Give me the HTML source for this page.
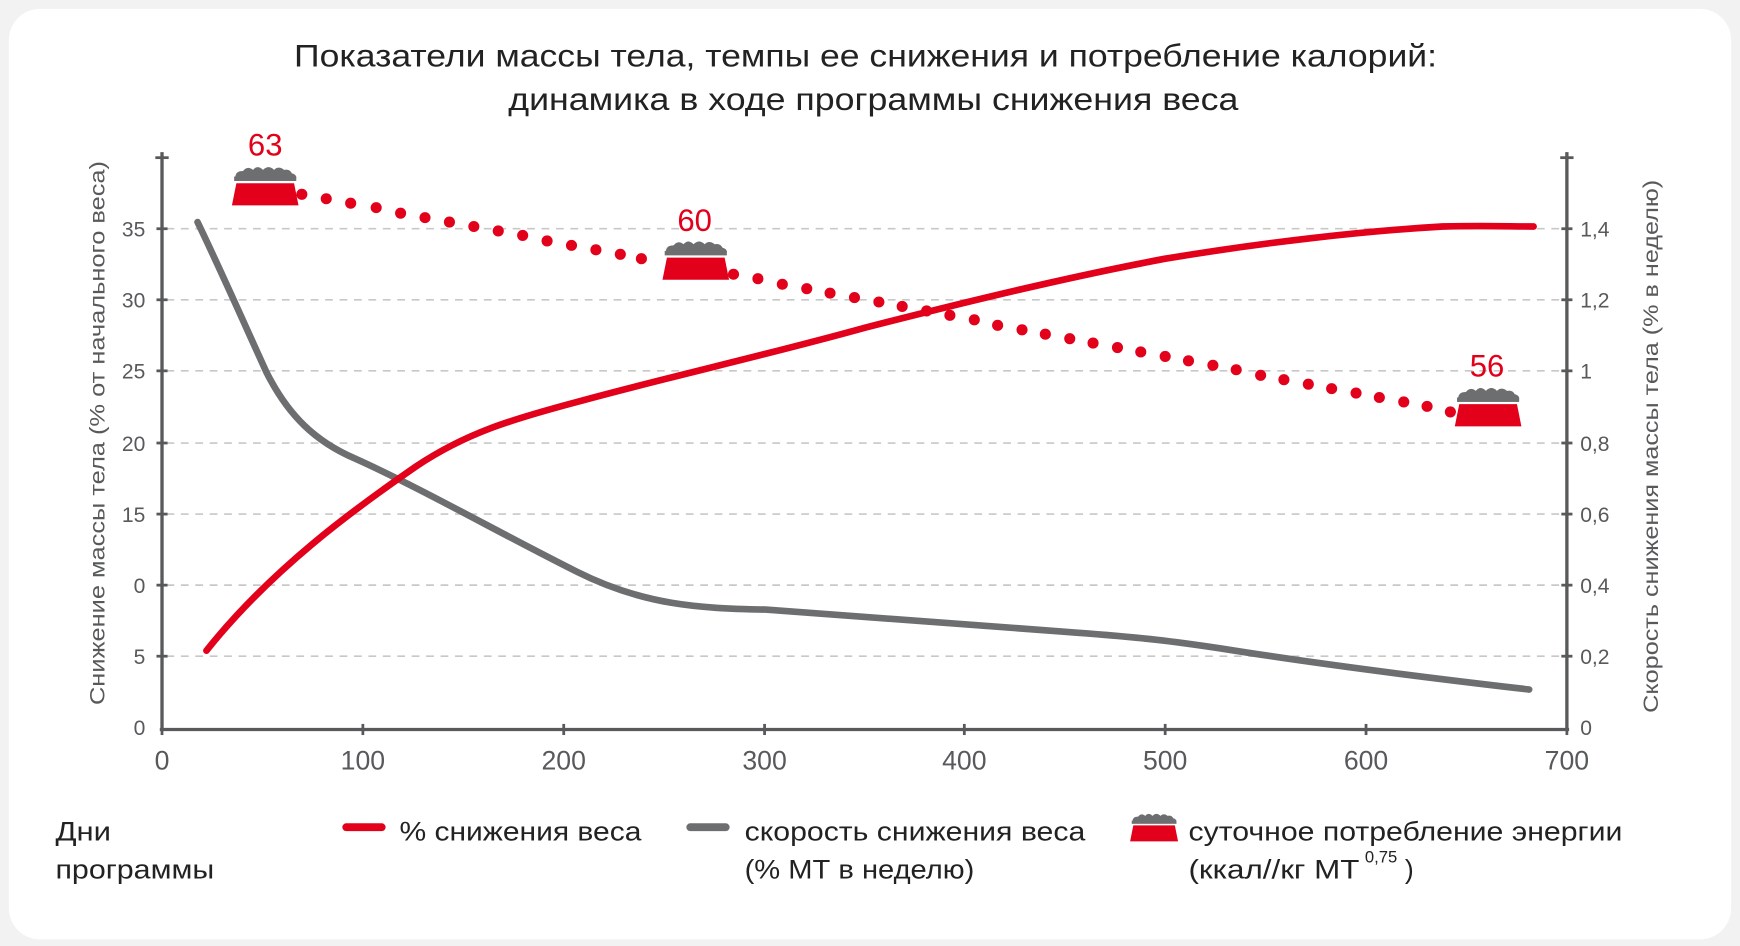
<!DOCTYPE html>
<html><head><meta charset="utf-8"><style>
html,body{margin:0;padding:0;background:#f2f2f2;}
svg{display:block}
text{font-family:"Liberation Sans Narrow","Liberation Sans","DejaVu Sans",sans-serif;}
</style></head><body>
<svg width="1740" height="946" viewBox="0 0 1568 852" preserveAspectRatio="none" xmlns="http://www.w3.org/2000/svg">
<defs>
<g id="bowl">
<path d="M-27,-10 Q-27,-16 -20,-16 Q-16,-21 -11,-17 Q-7,-22 -2,-17 Q3,-22 8,-17 Q12,-21 17,-17 Q22,-18 24,-14 Q28,-13 28,-10 Z" fill="#6d6e70"/>
<rect x="-28" y="-11" width="56" height="4" fill="#6d6e70"/>
<path d="M-26,-5 L26,-5 L30,15 L-30,15 Z" fill="#e2001a"/>
</g>
</defs>
<rect x="0" y="0" width="1568" height="852" fill="#f2f2f2"/>
<rect x="8" y="8" width="1552" height="838" rx="28" fill="#fff"/>
<g fill="#222" font-size="28" text-anchor="middle">
<text x="780" y="60" textLength="1030" lengthAdjust="spacingAndGlyphs">Показатели массы тела, темпы ее снижения и потребление калорий:</text>
<text x="787" y="99" textLength="658" lengthAdjust="spacingAndGlyphs">динамика в ходе программы снижения веса</text>
</g>
<g stroke="#c8c8c8" stroke-width="1.5" stroke-dasharray="7,6">
<line x1="150" y1="206" x2="1408" y2="206"/><line x1="150" y1="270" x2="1408" y2="270"/>
<line x1="150" y1="334" x2="1408" y2="334"/><line x1="150" y1="399" x2="1408" y2="399"/>
<line x1="150" y1="463" x2="1408" y2="463"/><line x1="150" y1="527" x2="1408" y2="527"/>
<line x1="150" y1="591" x2="1408" y2="591"/>
</g>
<g stroke="#58595b" stroke-width="3" fill="none">
<line x1="146" y1="137" x2="146" y2="657"/><line x1="1412" y1="137" x2="1412" y2="657"/>
<line x1="144" y1="657" x2="1414" y2="657"/>
</g>
<g stroke="#58595b" stroke-width="2.5">
<line x1="140" y1="142" x2="152" y2="142"/><line x1="1406" y1="142" x2="1418" y2="142"/>
<line x1="141" y1="206" x2="151" y2="206"/><line x1="141" y1="270" x2="151" y2="270"/><line x1="141" y1="334" x2="151" y2="334"/><line x1="141" y1="399" x2="151" y2="399"/><line x1="141" y1="463" x2="151" y2="463"/><line x1="141" y1="527" x2="151" y2="527"/><line x1="141" y1="591" x2="151" y2="591"/>
<line x1="1407" y1="206" x2="1417" y2="206"/><line x1="1407" y1="270" x2="1417" y2="270"/><line x1="1407" y1="334" x2="1417" y2="334"/><line x1="1407" y1="399" x2="1417" y2="399"/><line x1="1407" y1="463" x2="1417" y2="463"/><line x1="1407" y1="527" x2="1417" y2="527"/><line x1="1407" y1="591" x2="1417" y2="591"/>
<line x1="146" y1="652" x2="146" y2="662"/><line x1="327" y1="652" x2="327" y2="662"/><line x1="508" y1="652" x2="508" y2="662"/><line x1="689" y1="652" x2="689" y2="662"/><line x1="869" y1="652" x2="869" y2="662"/><line x1="1050" y1="652" x2="1050" y2="662"/><line x1="1231" y1="652" x2="1231" y2="662"/><line x1="1412" y1="652" x2="1412" y2="662"/>
</g>
<g fill="#58595b" font-size="19" text-anchor="end">
<text x="131" y="213">35</text><text x="131" y="277">30</text><text x="131" y="341">25</text><text x="131" y="406">20</text><text x="131" y="470">15</text><text x="131" y="534">0</text><text x="131" y="598">5</text><text x="131" y="662">0</text>
</g>
<g fill="#58595b" font-size="19">
<text x="1424" y="213">1,4</text><text x="1424" y="277">1,2</text><text x="1424" y="341">1</text><text x="1424" y="406">0,8</text><text x="1424" y="470">0,6</text><text x="1424" y="534">0,4</text><text x="1424" y="598">0,2</text><text x="1424" y="662">0</text>
</g>
<g fill="#58595b" font-size="24" text-anchor="middle">
<text x="146" y="693">0</text><text x="327" y="693">100</text><text x="508" y="693">200</text><text x="689" y="693">300</text><text x="869" y="693">400</text><text x="1050" y="693">500</text><text x="1231" y="693">600</text><text x="1412" y="693">700</text>
</g>
<text transform="translate(94,390) rotate(-90)" fill="#58595b" font-size="19" text-anchor="middle" textLength="490" lengthAdjust="spacingAndGlyphs">Снижение массы тела (% от начального веса)</text>
<text transform="translate(1494,402) rotate(-90)" fill="#58595b" font-size="19" text-anchor="middle" textLength="480" lengthAdjust="spacingAndGlyphs">Скорость снижения массы тела (% в неделю)</text>
<g fill="#e2001a">
<circle cx="272" cy="175" r="5"/><circle cx="294" cy="179" r="5"/><circle cx="316" cy="183" r="5"/><circle cx="339" cy="187" r="5"/><circle cx="361" cy="192" r="5"/><circle cx="383" cy="196" r="5"/><circle cx="405" cy="200" r="5"/><circle cx="427" cy="204" r="5"/><circle cx="449" cy="208" r="5"/><circle cx="471" cy="212" r="5"/><circle cx="493" cy="217" r="5"/><circle cx="515" cy="221" r="5"/><circle cx="537" cy="225" r="5"/><circle cx="559" cy="229" r="5"/><circle cx="578" cy="233" r="5"/>
<circle cx="661" cy="247" r="5"/><circle cx="683" cy="251" r="5"/><circle cx="705" cy="256" r="5"/><circle cx="727" cy="260" r="5"/><circle cx="748" cy="264" r="5"/><circle cx="770" cy="268" r="5"/><circle cx="792" cy="272" r="5"/><circle cx="813" cy="276" r="5"/><circle cx="835" cy="280" r="5"/><circle cx="856" cy="284" r="5"/><circle cx="878" cy="288" r="5"/><circle cx="899" cy="293" r="5"/><circle cx="921" cy="297" r="5"/><circle cx="942" cy="301" r="5"/><circle cx="964" cy="305" r="5"/><circle cx="985" cy="309" r="5"/><circle cx="1007" cy="313" r="5"/><circle cx="1028" cy="317" r="5"/><circle cx="1050" cy="321" r="5"/><circle cx="1071" cy="325" r="5"/><circle cx="1093" cy="329" r="5"/><circle cx="1114" cy="333" r="5"/><circle cx="1136" cy="338" r="5"/><circle cx="1157" cy="342" r="5"/><circle cx="1179" cy="346" r="5"/><circle cx="1200" cy="350" r="5"/><circle cx="1222" cy="354" r="5"/><circle cx="1243" cy="358" r="5"/><circle cx="1265" cy="362" r="5"/><circle cx="1286" cy="366" r="5"/><circle cx="1307" cy="371" r="5"/>
</g>
<path d="M178,200 C195,235 215,280 240,335 C260,375 285,398 320,413 C380,440 450,480 520,515 C580,545 630,548 690,549 C780,555 870,562 960,569 C1030,574 1060,578 1100,584 C1200,600 1300,612 1378,621" stroke="#6d6e70" stroke-width="6" fill="none" stroke-linecap="round"/>
<path d="M186,586 C245,512 320,458 375,420 C420,390 460,378 520,362 C600,340 690,320 780,295 C870,272 960,250 1050,233 C1140,218 1230,208 1300,204 C1340,203 1360,204 1382,204" stroke="#e2001a" stroke-width="6" fill="none" stroke-linecap="round"/>
<use href="#bowl" x="239" y="170"/>
<use href="#bowl" x="627" y="237"/>
<use href="#bowl" x="1341" y="369"/>
<g fill="#e2001a" font-size="28" text-anchor="middle">
<text x="239" y="140">63</text><text x="626" y="208">60</text><text x="1340" y="339">56</text>
</g>
<g fill="#222" font-size="24" lengthAdjust="spacingAndGlyphs">
<text x="50" y="757" textLength="50" lengthAdjust="spacingAndGlyphs">Дни</text><text x="50" y="791" textLength="143" lengthAdjust="spacingAndGlyphs">программы</text>
<text x="360" y="757" textLength="218" lengthAdjust="spacingAndGlyphs">% снижения веса</text>
<text x="671" y="757" textLength="307" lengthAdjust="spacingAndGlyphs">скорость снижения веса</text><text x="671" y="791" textLength="207" lengthAdjust="spacingAndGlyphs">(% МТ в неделю)</text>
<text x="1071" y="757" textLength="391" lengthAdjust="spacingAndGlyphs">суточное потребление энергии</text>
<text x="1071" y="791" textLength="154" lengthAdjust="spacingAndGlyphs">(ккал//кг МТ</text><text x="1230" y="777" font-size="15">0,75</text><text x="1266" y="791">)</text>
</g>
<line x1="312" y1="745" x2="344" y2="745" stroke="#e2001a" stroke-width="7" stroke-linecap="round"/>
<line x1="622" y1="745" x2="654" y2="745" stroke="#6d6e70" stroke-width="7" stroke-linecap="round"/>
<g transform="translate(1040,747) scale(0.72)"><use href="#bowl"/></g>
</svg>
</body></html>
